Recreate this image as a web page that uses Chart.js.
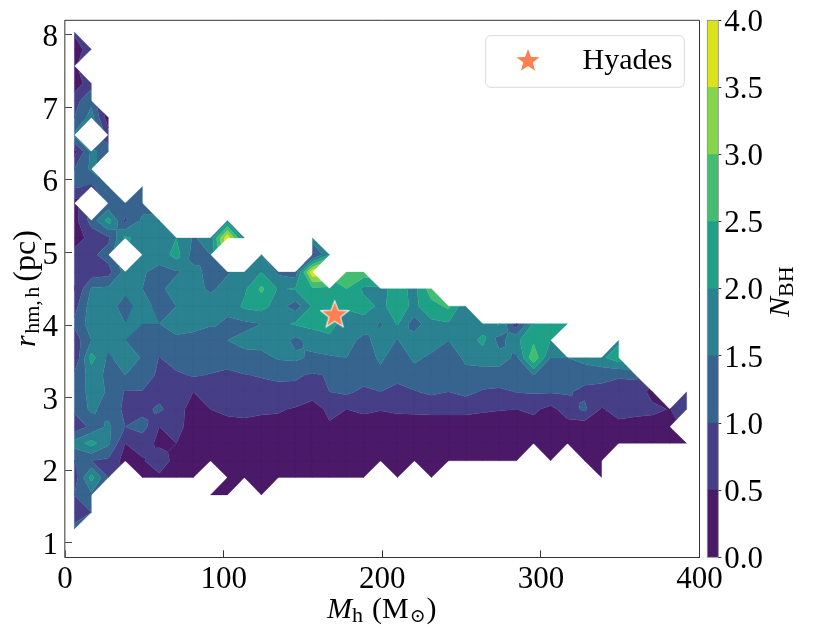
<!DOCTYPE html>
<html>
<head>
<meta charset="utf-8">
<title>Hyades</title>
<script src="https://cdn.jsdelivr.net/npm/chart.js@4"></script>
<style>
    body { margin: 0; background: #fff; }
    #wrap { position: relative; width: 830px; height: 639px; }
    #mainChart { position: absolute; left: 0; top: 0; }
    #barChart { position: absolute; left: 700px; top: 0; }
</style>
</head>
<body>
<div id="wrap">
    <canvas id="mainChart" width="830" height="639"></canvas>
    <canvas id="barChart" width="130" height="639"></canvas>
</div>
<script>
// grid positions of the contour data
const massGrid = [5.9, 16.6, 27.3, 38.0, 48.8, 59.5, 70.2, 80.9, 91.7, 102.4, 113.1, 123.8, 134.5, 145.3, 156.0, 166.7, 177.4, 188.2, 198.9, 209.6, 220.3, 231.0, 241.8, 252.5, 263.2, 273.9, 284.7, 295.4, 306.1, 316.8, 327.5, 338.3, 349.0, 359.7, 370.4, 381.2, 391.9];
const radiusGrid = [8.04, 7.80, 7.57, 7.33, 7.09, 6.86, 6.62, 6.39, 6.15, 5.91, 5.68, 5.44, 5.20, 4.97, 4.73, 4.50, 4.26, 4.02, 3.79, 3.55, 3.31, 3.08, 2.84, 2.60, 2.37, 2.13, 1.90, 1.66, 1.42, 1.19];

// N_BH per row, top row first, one value per mass column (null = no clusters there)
const _ = null;
const r00 = [.6];
const r01 = [.2, .8];
const r02 = [.4];
const r03 = [.2, .8];
const r04 = [.8, 1.4];
const r05 = [1.0, 1.7, .2];
const r06 = [1.6, _, .7];
const r07 = [.3, 1.6, 1.3];
const r08 = [1.0, 1.6];
const r09 = [1.1, .9, 1.4, _, 1.4];
const r10 = [.3, _, 1.1, 1.3, 1.3];
const r11 = [.3, 1.2, 2.2, .9, 1.6, 1.6, _, _, _, 1.8];
const r12 = [.2, .7, .9, 2.1, 1.8, 1.7, 2.0, 1.45, 1.7, 3.9, 1.7, _, _, _, 1.8];
const r13 = [.7, .9, 1.2, _, 1.65, 1.7, 2.2, 1.3, 1.5, _, _, 1.5, _, _, .8, 2.0];
const r14 = [.7, .7, .8, 1.7, 1.55, 1.35, 1.45, 1.65, 1.35, 1.45, 1.7, 2.0, 1.4, 1.2, 3.9, _, 2.8, 2.8];
const r15 = [.45, 1.55, 1.6, 1.6, 1.5, 1.4, 1.7, 1.7, 1.4, 1.7, 1.9, 2.6, 1.95, 2.05, 2.4, 2.3, 2.5, 1.9, 1.85, 2.2, 1.85, 2.8];
const r16 = [.8, 1.75, 1.7, 1.3, 1.75, 1.3, 1.5, 1.8, 1.8, 1.65, 2.1, 2.2, 1.75, 1.25, 2.05, 2.3, 2.1, 2.2, 1.9, 2.2, 1.9, 2.3, 2.6, 1.6];
const r17 = [1.1, 1.74, 1.7, 1.5, 1.5, 1.5, 1.7, 1.65, 1.6, 1.4, 1.4, 1.5, 1.85, 2.07, 2.15, 2.3, 1.6, 1.8, 1.45, 2.05, 1.2, 1.9, 1.95, 1.7, 1.7, 2.05, .7, 2.1, 2.1, 2.2];
const r18 = [.7, 1.5, 1.7, 1.5, 1.25, 1.2, 1.4, 1.35, .98, 1.5, 1.6, 1.7, 1.8, 1.35, 1.7, 1.8, 1.7, 1.35, 1.7, 1.48, 1.8, 1.75, 1.5, 1.65, 2.15, 1.3, 1.9, 2.4, 2.0, _, _, _, 1.9];
const r19 = [.5, 2.2, 1.4, 1.8, 1.45, .98, 1.3, 1.3, 1.3, 1.2, 1.4, 1.35, 1.55, 1.6, 1.4, 1.45, 1.5, 1.2, 1.6, 1.2, 1.6, 1.4, 1.2, 1.6, 1.7, 1.7, 1.4, 2.9, 1.5, 1.5, 1.7, 1.9, 2.3];
const r20 = [1.1, 1.7, 1.4, 1.5, 1.25, .9, .9, 1.05, .97, .9, .98, 1.03, 1.1, 1.05, .95, 1.03, 1.04, 1.2, 1.35, 1.1, 1.3, 1.3, 1.3, 1.35, 1.3, 1.3, 1.25, 1.5, 1.3, 1.05, 1.15, 1.15, 1.05, 1.1];
const r21 = [1.1, 1.7, 1.45, .95, .98, .8, .7, .5, .8, .85, .85, .85, .85, .9, .7, 1.0, 1.1, .9, 1.0, .9, .97, 1.1, 1.0, 1.15, .95, .9, 1.02, 1.05, 1.05, 1.05, .9, .85, .8, .75, .35, _, .8];
const r22 = [1.1, 1.6, 1.3, .9, .85, 1.1, .7, .3, .5, .6, .7, .6, .55, .45, .3, .6, .5, .6, .52, .57, .58, .6, .62, .6, .55, .52, .5, .6, .35, .75, 1.1, .45, .7, .65, .6, .48, .8];
const r23 = [.7, 1.1, 1.6, 1.0, 1.2, .5, .65, .3, .3, .35, .3, .3, .35, .3, .2, .45, .3, .25, .3, .3, .3, .3, .25, .3, .3, .3, .3, .3, .2, .3, .2, .25, .35, .3, .3, .3];
const r24 = [1.7, 2.2, 1.6, .5, .7, .4, .5, .2, .1, .1, .1, .2, .1, .1, .1, .2, .1, .1, .1, .1, .2, .1, .1, .1, .1, .1, .2, .1, .1, .1, .1, .1, .1, .1, .2, .1, .1];
const r25 = [1.0, 1.0, .9, .3, .45, .8, .3, .1, .1, .1, .1, .1, .1, .1, .1, .1, .1, .1, .1, .1, .1, .1, .1, .1, .1, .1, .1, _, .1, _, .1, .1];
const r26 = [.7, 2.2, 1.0, _, .2, .4, .1, .1, _, .1, .1, .1, .1, .1, .1, .1, .1, .1, _, .1, _, .1, _, _, _, _, _, _, _, _, _, .1];
const r27 = [1.0, 1.4, _, _, _, _, _, _, .1, .1, _, .1];
const r28 = [.6, 1.0];
const r29 = [1.2];
const rows = [r00, r01, r02, r03, r04, r05, r06, r07, r08, r09, r10, r11, r12, r13, r14, r15, r16, r17, r18, r19, r20, r21, r22, r23, r24, r25, r26, r27, r28, r29];

const levels = [0, 0.5, 1, 1.5, 2, 2.5, 3, 3.5, 4];
const bandColors = ['#4a1a69', '#463f87', '#36648f', '#2a818f', '#1fa188', '#43bd72', '#86d54a', '#dce318'];

const massTicks = [0, 100, 200, 300, 400];
const radiusTicks = [1, 2, 3, 4, 5, 6, 7, 8];
const barTicks = [0, 0.5, 1, 1.5, 2, 2.5, 3, 3.5, 4];

const hyadesMass = 170;
const hyadesRadius = 4.15;

const serif = '"Liberation Serif", "DejaVu Serif", serif';
const mathFont = size => `italic ${size}px ${serif}`;
const romanFont = size => `${size}px ${serif}`;
const coral = '#ff7f50';

function makeStar(size, edge) {
    const c = document.createElement('canvas');
    c.width = size;
    c.height = size;
    const g = c.getContext('2d');
    const mid = size / 2;
    const outer = mid - edge;
    g.beginPath();
    for (let i = 0; i < 10; i++) {
        const rad = i % 2 === 0 ? outer : outer * 0.42;
        const a = -Math.PI / 2 + i * Math.PI / 5;
        g.lineTo(mid + rad * Math.cos(a), mid + 1 + rad * Math.sin(a));
    }
    g.closePath();
    if (edge > 0) {
        g.lineJoin = 'miter';
        g.lineWidth = edge;
        g.strokeStyle = '#fff';
        g.stroke();
    }
    g.fillStyle = coral;
    g.fill();
    return c;
}

// keep the part of a polygon where z is on the wanted side of the level
function clipPoly(poly, level, keepAbove) {
    const out = [];
    for (let i = 0; i < poly.length; i++) {
        const a = poly[i];
        const b = poly[(i + 1) % poly.length];
        const aIn = keepAbove ? a.z >= level : a.z <= level;
        const bIn = keepAbove ? b.z >= level : b.z <= level;
        if (aIn !== bIn) {
            const t = (level - a.z) / (b.z - a.z);
            out.push({ x: a.x + t * (b.x - a.x), y: a.y + t * (b.y - a.y), z: level });
        }
        if (bIn) out.push(b);
    }
    return out;
}

// a level cutting opposite corners apart: the quad mean decides how they join
function isSaddle(p) {
    return levels.some(l => (p[0].z >= l) === (p[2].z >= l) && (p[1].z >= l) === (p[3].z >= l) && (p[0].z >= l) !== (p[1].z >= l));
}

function splitSaddle(p) {
    const mid = {
        x: (p[0].x + p[1].x + p[2].x + p[3].x) / 4,
        y: (p[0].y + p[1].y + p[2].y + p[3].y) / 4,
        z: (p[0].z + p[1].z + p[2].z + p[3].z) / 4
    };
    return p.map((pt, i) => [pt, p[(i + 1) % 4], mid]);
}

const contourPlugin = {
    id: 'contour',
    beforeDatasetsDraw(chart) {
        const { ctx, chartArea, scales } = chart;
        // quads with one missing corner stay as a triangle, two or more are dropped
        const quads = [];
        for (let r = 0; r < rows.length - 1; r++) {
            for (let c = 0; c < massGrid.length - 1; c++) {
                const corners = [[r, c], [r, c + 1], [r + 1, c + 1], [r + 1, c]];
                const poly = [];
                corners.forEach(([i, j]) => {
                    const z = rows[i][j];
                    if (z !== null && z !== undefined) {
                        poly.push({ x: scales.x.getPixelForValue(massGrid[j]), y: scales.y.getPixelForValue(radiusGrid[i]), z });
                    }
                });
                if (poly.length === 4 && isSaddle(poly)) quads.push(...splitSaddle(poly));
                else if (poly.length >= 3) quads.push(poly);
            }
        }
        ctx.save();
        ctx.beginPath();
        ctx.rect(chartArea.left, chartArea.top, chartArea.right - chartArea.left, chartArea.bottom - chartArea.top);
        ctx.clip();
        bandColors.forEach((color, b) => {
            ctx.beginPath();
            quads.forEach(poly => {
                let part = clipPoly(poly, levels[b], true);
                if (part.length) part = clipPoly(part, levels[b + 1], false);
                if (part.length < 3) return;
                ctx.moveTo(part[0].x, part[0].y);
                part.slice(1).forEach(p => ctx.lineTo(p.x, p.y));
                ctx.closePath();
            });
            ctx.fillStyle = color;
            ctx.fill();
            ctx.strokeStyle = color;
            ctx.lineWidth = 0.35;
            ctx.stroke();
        });
        ctx.restore();
    }
};

function drawRuns(ctx, x, y, runs) {
    let pos = x;
    runs.forEach(run => {
        ctx.font = run.font;
        ctx.fillText(run.text, pos, y + (run.dy || 0));
        pos += ctx.measureText(run.text).width + (run.gap || 0);
    });
}

const textPlugin = {
    id: 'labels',
    afterDraw(chart) {
        const { ctx, chartArea } = chart;
        ctx.save();
        // top and right spines
        ctx.strokeStyle = '#333';
        ctx.lineWidth = 1;
        ctx.beginPath();
        ctx.moveTo(chartArea.left, chartArea.top);
        ctx.lineTo(chartArea.right, chartArea.top);
        ctx.lineTo(chartArea.right, chartArea.bottom);
        ctx.stroke();

        ctx.fillStyle = '#000';
        ctx.textAlign = 'left';
        ctx.textBaseline = 'alphabetic';
        drawRuns(ctx, 327, 618, [
            { text: 'M', font: mathFont(30) },
            { text: 'h', font: romanFont(22), dy: 4, gap: 9 },
            { text: '(M', font: romanFont(30), gap: 1 },
            { text: '\u2299', font: romanFont(19), dy: 4, gap: 1 },
            { text: ')', font: romanFont(30) }
        ]);

        ctx.save();
        ctx.translate(35, 347);
        ctx.rotate(-Math.PI / 2);
        drawRuns(ctx, 0, 0, [
            { text: 'r', font: mathFont(30), gap: 1.5 },
            { text: 'hm,', font: romanFont(22), dy: 4, gap: 2.5 },
            { text: 'h', font: romanFont(22), dy: 4, gap: 5 },
            { text: '(pc)', font: romanFont(32) }
        ]);
        ctx.restore();

        // legend box
        ctx.beginPath();
        ctx.roundRect(485.7, 35.7, 198.6, 51.6, 5);
        ctx.fillStyle = 'rgba(255,255,255,0.8)';
        ctx.fill();
        ctx.strokeStyle = '#d9d9d9';
        ctx.lineWidth = 1;
        ctx.stroke();
        ctx.drawImage(legendStar, 528 - legendStar.width / 2, 60 - legendStar.height / 2);
        ctx.fillStyle = '#000';
        ctx.font = romanFont(30);
        ctx.fillText('Hyades', 582.5, 69);
        ctx.restore();
    }
};

const barTextPlugin = {
    id: 'barLabel',
    afterDraw(chart) {
        const { ctx, chartArea } = chart;
        ctx.save();
        ctx.strokeStyle = '#888';
        ctx.lineWidth = 0.8;
        ctx.strokeRect(chartArea.left, chartArea.top, chartArea.right - chartArea.left, chartArea.bottom - chartArea.top);
        ctx.fillStyle = '#000';
        ctx.textAlign = 'left';
        ctx.textBaseline = 'alphabetic';
        ctx.translate(89, 317);
        ctx.rotate(-Math.PI / 2);
        drawRuns(ctx, 0, 0, [
            { text: 'N', font: mathFont(30) },
            { text: 'BH', font: romanFont(22), dy: 4 }
        ]);
        ctx.restore();
    }
};

const plotStar = makeStar(30, 2);
const legendStar = makeStar(24, 0);

new Chart(document.getElementById('mainChart').getContext('2d'), {
    type: 'scatter',
    data: {
        datasets: [{
            label: 'Hyades',
            data: [{ x: hyadesMass, y: hyadesRadius }],
            pointStyle: plotStar,
            clip: false
        }]
    },
    options: {
        responsive: false,
        animation: false,
        layout: { padding: { left: 0, top: 20.3, right: 130.5, bottom: 0 } },
        plugins: { legend: { display: false }, tooltip: { enabled: false } },
        scales: {
            x: {
                type: 'linear',
                min: 0,
                max: 400,
                afterBuildTicks: s => { s.ticks = massTicks.map(v => ({ value: v })); },
                afterFit: s => { s.height = 81.7; s.paddingLeft = 0; s.paddingRight = 0; },
                border: { color: '#333', width: 1 },
                grid: { drawOnChartArea: false, tickLength: -7, color: '#333', tickWidth: 1 },
                ticks: { color: '#000', font: { family: serif, size: 31 }, padding: 11, maxRotation: 0 }
            },
            y: {
                type: 'linear',
                min: 0.8,
                max: 8.2,
                afterBuildTicks: s => { s.ticks = radiusTicks.map(v => ({ value: v })); },
                afterFit: s => { s.width = 65; s.paddingTop = 0; s.paddingBottom = 0; },
                border: { color: '#777', width: 1.5 },
                grid: { drawOnChartArea: false, tickLength: -7, color: '#444', tickWidth: 1 },
                ticks: { color: '#000', font: { family: serif, size: 31 }, padding: 14, labelOffset: 3 }
            }
        }
    },
    plugins: [contourPlugin, textPlugin]
});

// colour bar, one stacked segment per contour band
new Chart(document.getElementById('barChart').getContext('2d'), {
    type: 'bar',
    data: {
        labels: ['N'],
        datasets: bandColors.map((color, i) => ({
            data: [levels[i + 1] - levels[i]],
            backgroundColor: color,
            barPercentage: 1,
            categoryPercentage: 1
        }))
    },
    options: {
        responsive: false,
        animation: false,
        layout: { padding: { left: 7.3, top: 20.3, right: 0, bottom: 81.7 } },
        plugins: { legend: { display: false }, tooltip: { enabled: false } },
        scales: {
            x: { stacked: true, display: false },
            y: {
                stacked: true,
                position: 'right',
                min: 0,
                max: 4,
                afterBuildTicks: s => { s.ticks = barTicks.map(v => ({ value: v })); },
                afterFit: s => { s.width = 111.7; s.paddingTop = 0; s.paddingBottom = 0; },
                border: { display: false },
                grid: { drawOnChartArea: false, tickLength: 3, color: '#333' },
                ticks: {
                    color: '#000',
                    font: { family: serif, size: 31 },
                    padding: 3,
                    labelOffset: 2.5,
                    callback: v => v.toFixed(1)
                }
            }
        }
    },
    plugins: [barTextPlugin]
});
</script>
</body>
</html>
